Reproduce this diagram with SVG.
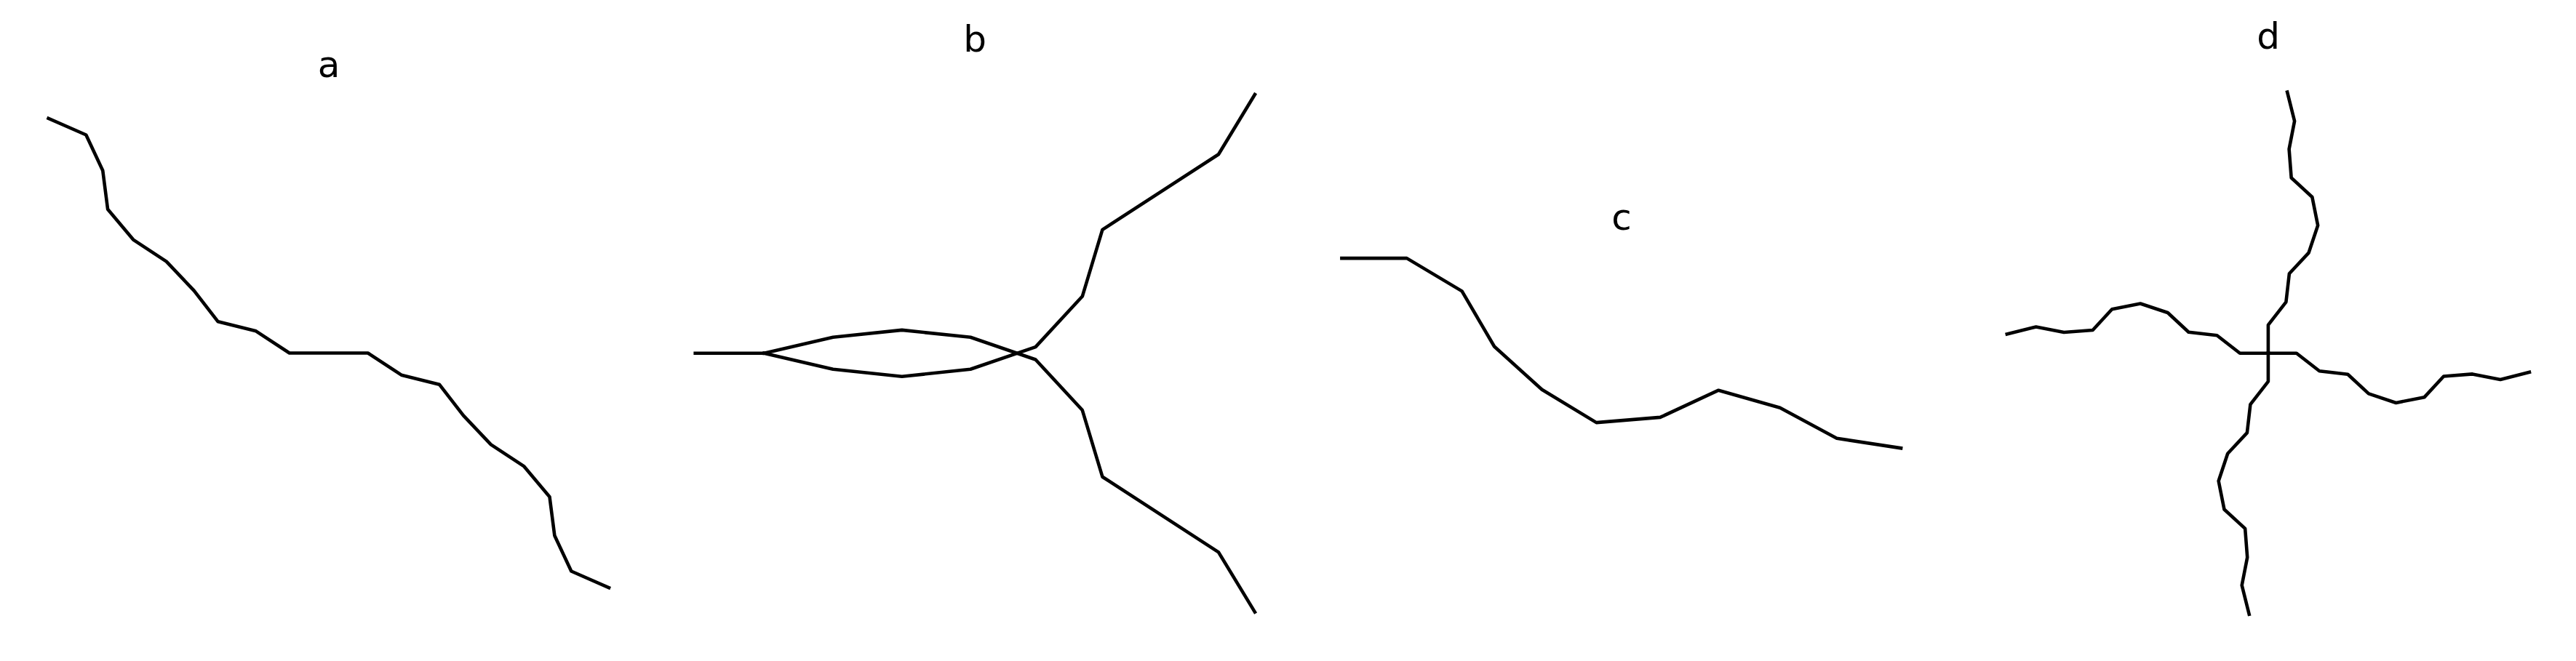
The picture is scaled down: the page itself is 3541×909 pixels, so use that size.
<svg xmlns="http://www.w3.org/2000/svg" xmlns:xlink="http://www.w3.org/1999/xlink" width="3541" height="909" viewBox="0 0 3541 909">
<style>
.ln{fill:none;stroke:#000;stroke-width:4.6;stroke-linejoin:round;stroke-linecap:square}
.ttl{font-family:"DejaVu Sans","Liberation Sans",sans-serif;font-size:50px;fill:#000;text-anchor:middle}
</style>
<defs>
<path id="dbranch" d="M0 0 L0 -38.9 L24.5 -70.4 L29 -109.4 L55.7 -138.1 L68.25 -175.7 L60.45 -214.75 L31.75 -241.2 L28.7 -280.75 L36.2 -319.15 L26.2 -359.05"/>
</defs>
<rect width="3541" height="909" fill="#fff"/>
<g id="panel-a">
<text class="ttl" x="452" y="105.5">a</text>
<path class="ln" d="M66.6 162.9 L118.3 185.5 L141.25 234.5 L148.1 287.8 L183.15 329.6 L228.75 359.7 L266.65 399.7 L299.7 442.3 L351.9 455.35 L397.85 485.5 L505.75 485.5 L551.7 515.65 L603.9 528.7 L636.95 571.3 L674.85 611.3 L720.45 641.4 L755.5 683.2 L762.35 736.5 L785.3 785.5 L837 808.1"/>
</g>
<g id="panel-b">
<text class="ttl" x="1340" y="71">b</text>
<path class="ln" d="M955.7 485.8 L1050.4 485.8"/>
<path class="ln" d="M1050.4 485.8 L1145.1 463.8 L1239.8 453.9 L1334 463.8 L1423.5 494.5 L1487.8 564.05 L1515.4 655.7 L1675 759.4 L1724.9 841.7"/>
<path class="ln" d="M1050.4 485.8 L1145.1 507.8 L1239.8 517.7 L1334 507.8 L1423.5 477.1 L1487.8 407.55 L1515.4 315.9 L1675 212.2 L1724.9 129.9"/>
</g>
<g id="panel-c">
<text class="ttl" x="2229" y="315.5">c</text>
<path class="ln" d="M1844.4 355.1 L1933.8 355.1 L2009.6 400.4 L2054.1 476.5 L2119.6 535.8 L2194.4 581.1 L2282.1 573.9 L2362.3 536.7 L2446.8 560.8 L2524.8 602.8 L2613.1 616.3"/>
</g>
<g id="panel-d">
<text class="ttl" x="3118" y="66.5">d</text>
<g transform="translate(3117.9 485.7)">
<use class="ln" xlink:href="#dbranch"/>
<use class="ln" xlink:href="#dbranch" transform="rotate(90)"/>
<use class="ln" xlink:href="#dbranch" transform="rotate(180)"/>
<use class="ln" xlink:href="#dbranch" transform="rotate(270)"/>
</g>
</g>
</svg>
